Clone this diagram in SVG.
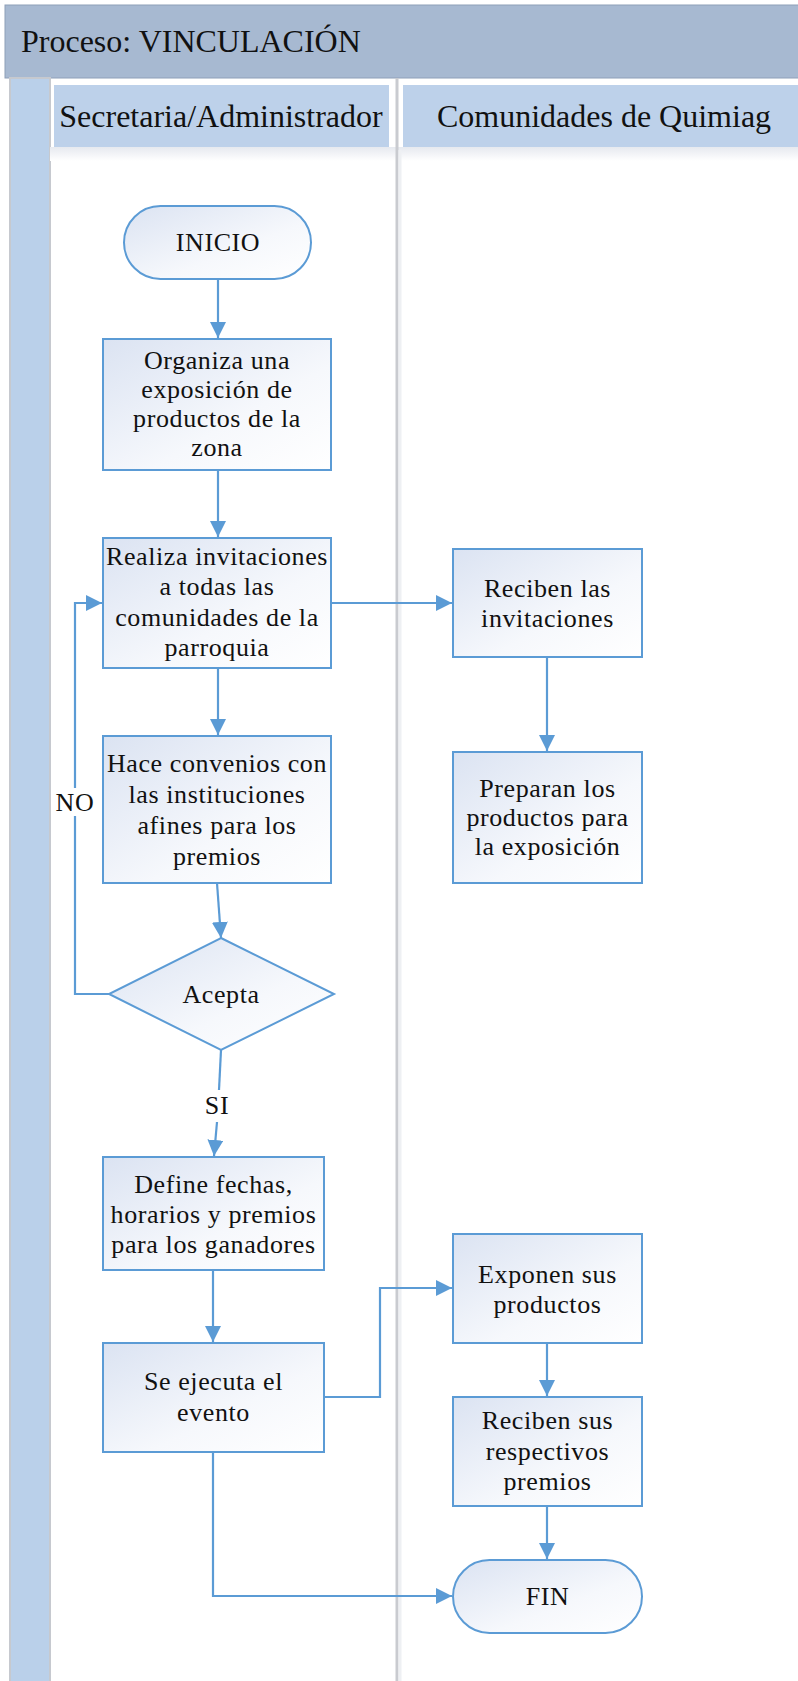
<svg xmlns="http://www.w3.org/2000/svg" width="798" height="1681" viewBox="0 0 798 1681">
<style>
.t{font-family:"Liberation Serif","Times New Roman",serif;font-size:26px;letter-spacing:0.6px;fill:#111;text-anchor:middle}
.h{font-family:"Liberation Serif","Times New Roman",serif;font-size:32px;fill:#111}
.n{fill:url(#g);stroke:#5b9bd5;stroke-width:2}
.c{fill:none;stroke:#5b9bd5;stroke-width:2.2}
.a{marker-end:url(#arr)}
</style>
<defs>
<linearGradient id="g" x1="0" y1="0" x2="1" y2="1">
<stop offset="0" stop-color="#dbe3f2"/>
<stop offset="0.6" stop-color="#f6f8fc"/>
<stop offset="1" stop-color="#ffffff"/>
</linearGradient>
<linearGradient id="sh" x1="0" y1="0" x2="0" y2="1">
<stop offset="0" stop-color="#e6e9ef"/>
<stop offset="1" stop-color="#ffffff"/>
</linearGradient>
<marker id="arr" viewBox="0 0 16 16" refX="16" refY="8" markerWidth="16" markerHeight="16" markerUnits="userSpaceOnUse" orient="auto">
<path d="M0,0 L16,8 L0,16 z" fill="#5b9bd5"/>
</marker>
</defs>
<rect x="0" y="0" width="798" height="1681" fill="#ffffff"/>
<g id="pool">
<rect x="5" y="5" width="800" height="73" fill="#a7b9d1" stroke="#8e9fb8" stroke-width="1"/>
<text class="h" x="21" y="52">Proceso: VINCULACIÓN</text>
<rect x="10" y="78" width="40" height="1610" fill="#bad0ea" stroke="#c6c9cf" stroke-width="2"/>
<rect x="50" y="147" width="748" height="14" fill="url(#sh)"/>
<line x1="397" y1="78" x2="397" y2="1681" stroke="#c9cbd0" stroke-width="3"/>
<line x1="400" y1="150" x2="400" y2="1681" stroke="#eef0f3" stroke-width="3"/>
</g>
<g id="lane1">
<rect x="54" y="85" width="335" height="62" fill="#bdd1ea"/>
<text class="h" x="221" y="127" text-anchor="middle">Secretaria/Administrador</text>
</g>
<g id="lane2">
<rect x="403" y="85" width="400" height="62" fill="#bdd1ea"/>
<text class="h" x="604" y="127" text-anchor="middle">Comunidades de Quimiag</text>
</g>
<g id="connectors">
<line class="c a" x1="218" y1="279" x2="218" y2="338"/>
<line class="c a" x1="218" y1="470" x2="218" y2="537"/>
<line class="c a" x1="218" y1="668" x2="218" y2="735"/>
<line class="c a" x1="217" y1="883" x2="221" y2="938"/>
<line class="c" x1="221" y1="1050" x2="219" y2="1090"/>
<line class="c a" x1="217" y1="1122" x2="214" y2="1156"/>
<text class="t" x="217" y="1114">SI</text>
<polyline class="c a" points="109,994 75,994 75,603 102,603"/>
<rect x="56" y="788" width="38" height="28" fill="#ffffff"/>
<text class="t" x="75" y="811">NO</text>
<line class="c a" x1="331" y1="603" x2="452" y2="603"/>
<line class="c a" x1="547" y1="657" x2="547" y2="751"/>
<line class="c a" x1="213" y1="1270" x2="213" y2="1342"/>
<polyline class="c a" points="324,1397 380,1397 380,1288 452,1288"/>
<line class="c a" x1="547" y1="1343" x2="547" y2="1396"/>
<line class="c a" x1="547" y1="1506" x2="547" y2="1559"/>
<polyline class="c a" points="213,1452 213,1596 452,1596"/>
</g>
<g id="inicio">
<rect class="n" x="124" y="206" width="187" height="73" rx="36.5"/>
<text class="t" x="218" y="251">INICIO</text>
</g>
<g id="organiza">
<rect class="n" x="103" y="339" width="228" height="131"/>
<text class="t" x="217" y="369">Organiza una</text>
<text class="t" x="217" y="398">exposición de</text>
<text class="t" x="217" y="427">productos de la</text>
<text class="t" x="217" y="456">zona</text>
</g>
<g id="realiza">
<rect class="n" x="103" y="538" width="228" height="130"/>
<text class="t" x="217" y="565">Realiza invitaciones</text>
<text class="t" x="217" y="595">a todas las</text>
<text class="t" x="217" y="626">comunidades de la</text>
<text class="t" x="217" y="656">parroquia</text>
</g>
<g id="convenios">
<rect class="n" x="103" y="736" width="228" height="147"/>
<text class="t" x="217" y="772">Hace convenios con</text>
<text class="t" x="217" y="803">las instituciones</text>
<text class="t" x="217" y="834">afines para los</text>
<text class="t" x="217" y="865">premios</text>
</g>
<g id="acepta">
<polygon class="n" points="221,938 334,994 221,1050 109,994"/>
<text class="t" x="221" y="1003">Acepta</text>
</g>
<g id="define">
<rect class="n" x="103" y="1157" width="221" height="113"/>
<text class="t" x="213.5" y="1193">Define fechas,</text>
<text class="t" x="213.5" y="1223">horarios y premios</text>
<text class="t" x="213.5" y="1253">para los ganadores</text>
</g>
<g id="ejecuta">
<rect class="n" x="103" y="1343" width="221" height="109"/>
<text class="t" x="213.5" y="1390">Se ejecuta el</text>
<text class="t" x="213.5" y="1421">evento</text>
</g>
<g id="reciben_inv">
<rect class="n" x="453" y="549" width="189" height="108"/>
<text class="t" x="547.5" y="597">Reciben las</text>
<text class="t" x="547.5" y="627">invitaciones</text>
</g>
<g id="preparan">
<rect class="n" x="453" y="752" width="189" height="131"/>
<text class="t" x="547.5" y="797">Preparan los</text>
<text class="t" x="547.5" y="826">productos para</text>
<text class="t" x="547.5" y="855">la exposición</text>
</g>
<g id="exponen">
<rect class="n" x="453" y="1234" width="189" height="109"/>
<text class="t" x="547.5" y="1283">Exponen sus</text>
<text class="t" x="547.5" y="1313">productos</text>
</g>
<g id="premios">
<rect class="n" x="453" y="1397" width="189" height="109"/>
<text class="t" x="547.5" y="1429">Reciben sus</text>
<text class="t" x="547.5" y="1460">respectivos</text>
<text class="t" x="547.5" y="1490">premios</text>
</g>
<g id="fin">
<rect class="n" x="453" y="1560" width="189" height="73" rx="36.5"/>
<text class="t" x="547.5" y="1605">FIN</text>
</g>
</svg>
